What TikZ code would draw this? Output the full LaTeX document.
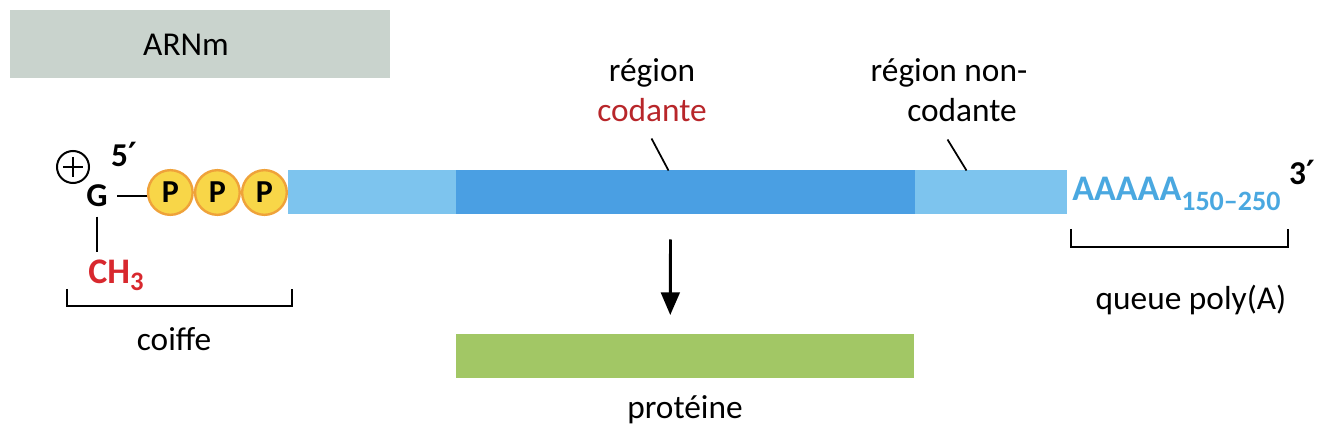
\documentclass[tikz,border=0pt]{standalone}
\usepackage{fontspec}
\setmainfont{Carlito}
\newfontfamily\primefont{DejaVu Sans}
\usetikzlibrary{arrows.meta,positioning,calc}

\definecolor{arnbox}{HTML}{C9D3CD}
\definecolor{utrblue}{HTML}{7DC4EE}
\definecolor{cdsblue}{HTML}{4A9FE3}
\definecolor{polyblue}{HTML}{4AA8E0}
\definecolor{protgreen}{HTML}{A2C765}
\definecolor{phyellow}{HTML}{F8D648}
\definecolor{phorange}{HTML}{EFA23A}
\definecolor{codred}{HTML}{B8262A}
\definecolor{methred}{HTML}{D8282E}

\newcommand{\primemark}{{\primefont\bfseries\char"2032}}

\begin{document}
\begin{tikzpicture}[x=0.75pt,y=-0.75pt,
  lbl/.style={inner sep=0pt,anchor=base,font=\fontsize{25}{27}\selectfont},
  boldlbl/.style={inner sep=0pt,font=\bfseries\fontsize{25}{27}\selectfont},
  strand/.style={inner sep=0pt,outer sep=0pt,minimum height=33pt,anchor=west},
  phos/.style={circle,draw=phorange,fill=phyellow,line width=1.8pt,minimum size=33.5pt,
    inner sep=0pt,font=\bfseries\fontsize{24}{24}\selectfont},
  brk/.style={line width=1.6pt},
  tick/.style={line width=1.3pt}]
  \useasboundingbox (0,0) rectangle (1334,441);
  % title
  \node (arnm) [fill=arnbox,minimum width=285pt,minimum height=51pt,anchor=north west,inner sep=0pt] at (10,10) {};
  \node (arnmtxt) [lbl] at (186,56) {ARNm};
  % the strand
  \node (utr5) [strand,fill=utrblue,minimum width=126pt] at (288,192.5) {};
  \node (cds) [strand,fill=cdsblue,minimum width=344.25pt] at (utr5.east) {};
  \node (utr3) [strand,fill=utrblue,minimum width=114pt] at (cds.east) {};
  % cap
  \node (p3) [phos,left=0pt of utr5.west] {P};
  \node (p2) [phos,left=0pt of p3] {P};
  \node (p1) [phos,left=0pt of p2] {P};
  \node (gua) [boldlbl,inner sep=7pt] at (97,196) {G};
  \node (ch3) [boldlbl,text=methred,font=\bfseries\fontsize{27}{27}\selectfont] at (116,275) {CH\raisebox{-5pt}{\fontsize{20}{20}\selectfont 3}};
  \node (five) [boldlbl] at (124,154) {5\primemark};
  \node (plus) [circle,draw,line width=1.5pt,minimum size=24pt,inner sep=0pt] at (73,167) {};
  \draw[line width=2pt] ($(plus.center)+(-10,0)$) -- ($(plus.center)+(10,0)$);
  \draw[line width=2pt] ($(plus.center)+(0,-10)$) -- ($(plus.center)+(0,10)$);
  \draw[tick] (gua.east) -- (gua.east -| p1.west);
  \draw[tick] (gua.south) -- ($(gua.south |- ch3.north)+(0,-8)$);
  % poly(A) tail
  \node (polya) [boldlbl,anchor=west,text=polyblue,font=\bfseries\fontsize{27}{27}\selectfont] at (1072,194) {AAAAA\raisebox{-7pt}{\fontsize{21}{21}\selectfont 150–250}};
  \node (three) [boldlbl] at (1302,172) {3\primemark};
  % labels of the regions
  \node (reg1) [lbl] at (652,82) {région};
  \node (cod1) [lbl,text=codred] at (652,122) {codante};
  \node (reg2) [lbl] at (949,82) {région non-};
  \node (cod2) [lbl] at (962,122) {codante};
  \draw[tick] ($(cds.north)+(-34,-32)$) -- ($(cds.north)+(-17,0)$);
  \draw[tick] ($(utr3.north)+(-43.5,-31)$) -- ($(utr3.north)+(-24.5,0)$);
  % brackets
  \draw[brk] (67,289) -- (67,306) -- (292,306) -- (292,289);
  \draw[brk] (1071,229) -- (1071,247) -- (1288,247) -- (1288,229);
  \node (coiffe) [lbl] at (174,350) {coiffe};
  \node (queue) [lbl] at (1191,310) {queue poly(A)};
  % translation
  \node (prot) [fill=protgreen,minimum width=343.5pt,minimum height=33pt,anchor=north west,inner sep=0pt] at (456,334) {};
  \draw[line width=2.2pt,-{Triangle[length=17pt,width=14pt]}] ($(cds.south)+(-15,25)$) -- ($(prot.north)+(-15,-19)$);
  \node (protlbl) [lbl] at (685,418) {protéine};
\end{tikzpicture}
\end{document}
